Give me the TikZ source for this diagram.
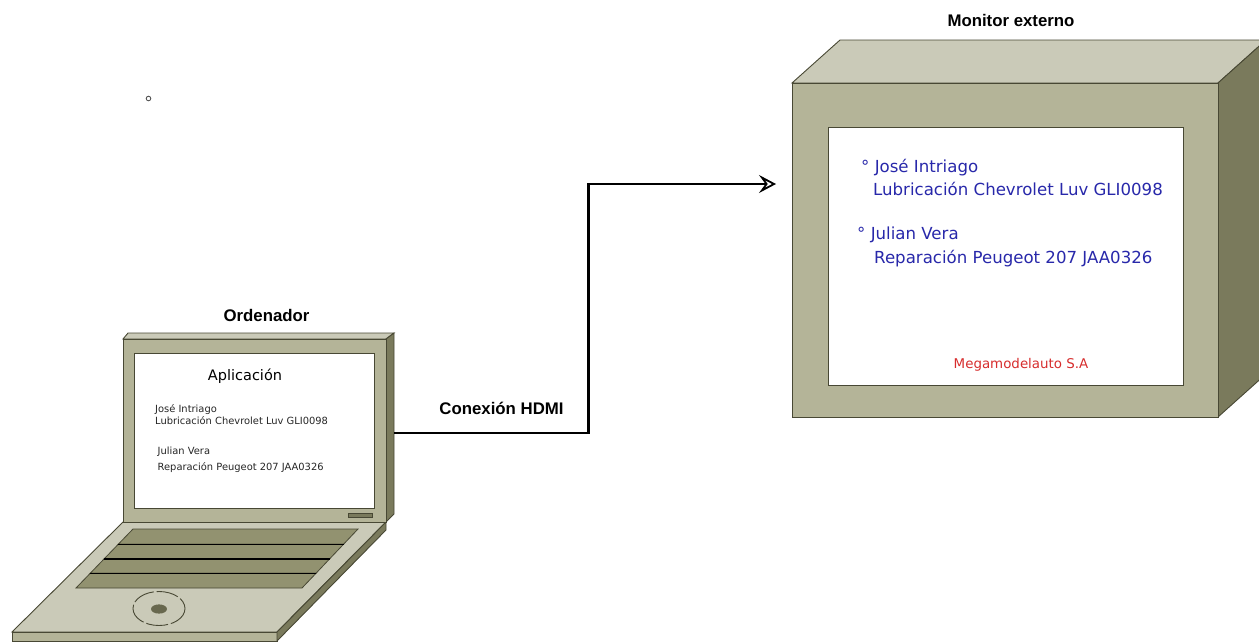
\documentclass[tikz,border=0pt]{standalone}
\usepackage{fontspec}
\setmainfont{DejaVu Sans}
\newfontfamily\labelfont{Liberation Sans}
\newfontfamily\screenfont{DejaVu Sans}
\usetikzlibrary{arrows.meta,calc}

\definecolor{olivelight}{RGB}{202,202,184}
\definecolor{olivemid}{RGB}{180,180,152}
\definecolor{olivedark}{RGB}{122,122,92}
\definecolor{olivekeys}{RGB}{146,146,112}
\definecolor{oliveedge}{RGB}{72,72,52}
\definecolor{screenblue}{RGB}{40,40,170}
\definecolor{brandred}{RGB}{215,45,45}

\tikzset{
  facefront/.style={fill=olivemid, draw=oliveedge, line width=0.9pt},
  facetop/.style={fill=olivelight, draw=oliveedge, line width=0.9pt},
  faceside/.style={fill=olivedark, draw=oliveedge, line width=0.9pt},
  screenbox/.style={fill=white, draw=oliveedge, line width=0.9pt},
  keyrow/.style={fill=olivekeys, draw=oliveedge, line width=0.8pt},
  title/.style={font=\labelfont\bfseries\fontsize{16.8}{18}\selectfont, anchor=base, inner sep=0pt},
  bigline/.style={font=\screenfont\fontsize{16.6}{19}\selectfont, text=screenblue, anchor=base west, inner sep=0pt},
  smallline/.style={font=\screenfont\fontsize{9.9}{12}\selectfont, text=black!85, anchor=base west, inner sep=0pt},
  hidden/.style={draw=none, fill=none, inner sep=0pt},
  conn/.style={draw=black, line width=2.3pt,
    -{Stealth[open, length=17pt, width=18pt, inset=6.5pt, line width=1.8pt]}},
}

\begin{document}
\begin{tikzpicture}[x=1pt, y=-1pt]
\useasboundingbox (0,0) rectangle (1259,641);
\clip (0,0) rectangle (1259,641);

% stray bullet in the upper left
\draw[gray!70!black, line width=0.9pt] (148.5,98.5) circle (2.3);

% ---------- laptop ----------
% base
\path[facetop] (123,522) -- (386,522) -- (277,632) -- (12,632) -- cycle;
\path[facefront] (12,632) rectangle (277,641);
\path[faceside] (386,522) -- (386,530) -- (277,641) -- (277,632) -- cycle;
% keyboard rows
\path[keyrow] (133,529)   -- (358,529)   -- (343.5,544.3) -- (118.2,544.3) -- cycle;
\path[keyrow] (118.2,544.3) -- (343.5,544.3) -- (329.5,559) -- (104,559) -- cycle;
\path[keyrow] (104,559) -- (329.5,559) -- (316,573.3) -- (90.2,573.3) -- cycle;
\path[keyrow] (90.2,573.3) -- (316,573.3) -- (302,588) -- (76,588) -- cycle;
\draw[black, line width=1.2pt] (118.2,544.3) -- (343.5,544.3)
                               (104,559) -- (329.5,559)
                               (90.2,573.3) -- (316,573.3);
% trackpad
\draw[oliveedge, line width=0.9pt, dash pattern=on 22pt off 3pt] (159,608.5) ellipse (26 and 17);
\fill[olivedark!85!black] (159,609) ellipse (8 and 4.6);

% lid
\path[facetop] (123,339) -- (128,333) -- (394,333) -- (386,339) -- cycle;
\path[faceside] (386,339) -- (394,333) -- (394,514) -- (386,522) -- cycle;
\node[facefront, minimum width=263pt, minimum height=183pt, inner sep=0pt] (lid) at (254.5,430.5) {};
\node[screenbox, minimum width=240pt, minimum height=155pt, inner sep=0pt] (lidscreen) at (254,430.5) {};
\path[fill=olivedark, draw=oliveedge, line width=0.6pt] (348,513) rectangle (372,517);
\node[hidden, minimum width=271pt, minimum height=189pt] (laptop) at (258.5,427.5) {};

\node[title] (laptoptitle) at (266.5,321.5) {Ordenador};
\node[font=\screenfont\fontsize{14.5}{17}\selectfont, anchor=base, inner sep=0pt] (app) at (245,380.5) {Aplicación};
\node[smallline] (l1) at (155,412.5) {José Intriago};
\node[smallline] (l2) at (155,424.5) {Lubricación Chevrolet Luv GLI0098};
\node[smallline] (l3) at (157.5,454.5) {Julian Vera};
\node[smallline] (l4) at (157.5,470) {Reparación Peugeot 207 JAA0326};

% ---------- external monitor ----------
\path[facetop] (792,83) -- (840,40) -- (1266,40) -- (1218,83) -- cycle;
\path[faceside] (1218,83) -- (1266,40) -- (1266,374) -- (1218,417) -- cycle;
\node[facefront, minimum width=426pt, minimum height=334pt, inner sep=0pt] (monitor) at (1005,250) {};
\node[screenbox, minimum width=355pt, minimum height=258pt, inner sep=0pt] (monscreen) at (1005.5,256) {};

\node[title] (montitle) at (1011,26.5) {Monitor externo};
\node[bigline] (m1) at (861,172) {° José Intriago};
\node[bigline] (m2) at (873,195.5) {Lubricación Chevrolet Luv GLI0098};
\node[bigline] (m3) at (857,239) {° Julian Vera};
\node[bigline] (m4) at (874,263.5) {Reparación Peugeot 207 JAA0326};
\node[font=\screenfont\fontsize{13.4}{16}\selectfont, text=brandred, anchor=base, inner sep=0pt] (brand) at (1021,368) {Megamodelauto S.A};

% ---------- HDMI link ----------
\coordinate (hdmiOut) at ([yshift=-5.5pt]laptop.east);
\coordinate (hdmiBend) at (588.5,184);
\coordinate (hdmiIn) at (776,184);
\draw[conn] (hdmiOut) -| (hdmiBend) -- (hdmiIn);
\node[title] (hdmilabel) at (501.5,414) {Conexión HDMI};

\end{tikzpicture}
\end{document}
